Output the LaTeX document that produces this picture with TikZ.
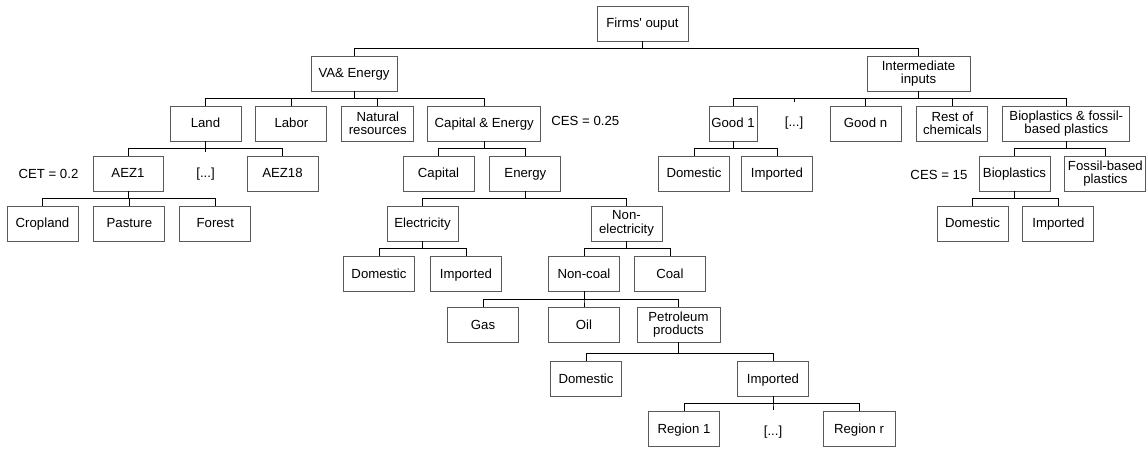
\documentclass[tikz,border=0pt]{standalone}
\usepackage{fontspec}
\setmainfont{Liberation Sans}
\usetikzlibrary{positioning}

\begin{document}
\begin{tikzpicture}[
        x=1pt, y=-1pt,
        nest/.style={rectangle, draw=black!65, line width=0.9pt, minimum width=71pt, minimum height=35pt, inner sep=2pt, align=center, text height=9.6pt, text depth=0.6pt, font=\fontsize{13.2}{13.4}\selectfont},
        twoline/.style={text height=, text depth=},
        gapnode/.style={rectangle, minimum width=30pt, minimum height=35pt, inner sep=0pt, font=\fontsize{13.2}{13.4}\selectfont},
        note/.style={inner sep=0pt, font=\fontsize{13.2}{13.4}\selectfont},
        link/.style={line width=0.75pt},
]
        \useasboundingbox (0,0) rectangle (1146,449);

        \node[nest, minimum width=91pt] (firms) at (642.5,23.5) {Firms\textquotesingle{} ouput};
        \node[nest, minimum width=86pt] (va) at (354,73.5) {VA\& Energy};
        \node[nest, twoline, minimum width=103pt] (inter) at (918.5,73.5) {Intermediate\\inputs};

        \node[nest] (land) at (205.5,123.5) {Land};
        \node[nest] (labor) [right=14pt of land] {Labor};
        \node[nest, twoline, minimum width=72pt] (natres) [right=14pt of labor] {Natural\\resources};
        \node[nest, minimum width=113pt] (capen) [right=13pt of natres] {Capital \& Energy};
        \node[note] (cesone) [right=10pt of capen, yshift=2.5pt] {CES = 0.25};
        \node[nest, minimum width=48pt] (good1) at (733,123.5) {Good 1};
        \node[gapnode] (idots) at (794,123.5) {[...]};
        \node[nest] (goodn) at (865.5,123.5) {Good n};
        \node[nest, twoline] (rest) [right=15pt of goodn] {Rest of\\chemicals};
        \node[nest, twoline, minimum width=127pt] (biofos) [right=14pt of rest] {Bioplastics \& fossil-\\based plastics};

        \node[nest, minimum width=70pt] (aez1) at (128,173.5) {AEZ1};
        \node[gapnode] (ldots) [below=15pt of land] {[...]};
        \node[nest] (aez18) at (282.5,173.5) {AEZ18};
        \node[note] (cet) [left=14pt of aez1] {CET = 0.2};
        \node[nest] (capital) at (438.5,173.5) {Capital};
        \node[nest] (energy) [right=15pt of capital] {Energy};
        \node[nest] (gdom) at (694,173.5) {Domestic};
        \node[nest] (gimp) [right=11pt of gdom] {Imported};
        \node[nest] (bio) at (1014.5,173.5) {Bioplastics};
        \node[nest, twoline, minimum width=81pt] (fossil) [right=14pt of bio] {Fossil-based\\plastics};
        \node[note] (cesfif) [left=11pt of bio, yshift=-1.5pt] {CES = 15};

        \node[nest] (crop) at (42.5,223.5) {Cropland};
        \node[nest] (past) [right=15pt of crop] {Pasture};
        \node[nest] (forest) [right=14pt of past] {Forest};
        \node[nest] (elec) at (422.5,223.5) {Electricity};
        \node[nest, twoline] (nonelec) at (626.5,223.5) {Non-\\electricity};
        \node[nest] (bdom) at (972.5,223.5) {Domestic};
        \node[nest] (bimp) [right=14pt of bdom] {Imported};

        \node[nest] (edom) at (379,273.5) {Domestic};
        \node[nest] (eimp) [right=15pt of edom] {Imported};
        \node[nest] (noncoal) at (584,273.5) {Non-coal};
        \node[nest] (coal) [right=14pt of noncoal] {Coal};

        \node[nest] (gas) at (483,324.5) {Gas};
        \node[nest] (oil) [below=16pt of noncoal] {Oil};
        \node[nest, twoline, minimum width=83pt] (petro) at (678.5,324.5) {Petroleum\\products};

        \node[nest] (pdom) at (586,378.5) {Domestic};
        \node[nest] (pimp) at (773,378.5) {Imported};

        \node[nest] (reg1) at (684,428.5) {Region 1};
        \node[gapnode] (rdots) [below=15pt of pimp, yshift=-3pt] {[...]};
        \node[nest, minimum width=72pt] (regr) at (859,428.5) {Region r};

        % tree links
        \foreach \c in {va,inter} \draw[link] (firms.south) -- ++(0,7) -| (\c.north);
        \foreach \c in {land,labor,natres,capen} \draw[link] (va.south) -- ++(0,7) -| (\c.north);
        \foreach \c in {good1,goodn,rest,biofos} \draw[link] (inter.south) -- ++(0,7) -| (\c.north);
        \draw[link] (inter.south) -- ++(0,7) -| ([yshift=4pt]idots.north);
        \foreach \c in {aez1,aez18} \draw[link] (land.south) -- ++(0,7) -| (\c.north);
        \draw[link] (land.south) -- ++(0,7) -| ([yshift=4pt]ldots.north);
        \foreach \c in {capital,energy} \draw[link] (capen.south) -- ++(0,7) -| (\c.north);
        \foreach \c in {gdom,gimp} \draw[link] (good1.south) -- ++(0,7) -| (\c.north);
        \foreach \c in {bio,fossil} \draw[link] (biofos.south) -- ++(0,7) -| (\c.north);
        \foreach \c in {crop,past,forest} \draw[link] (aez1.south) -- ++(0,7) -| (\c.north);
        \foreach \c in {elec,nonelec} \draw[link] (energy.south) -- ++(0,7) -| (\c.north);
        \foreach \c in {bdom,bimp} \draw[link] (bio.south) -- ++(0,7) -| (\c.north);
        \foreach \c in {edom,eimp} \draw[link] (elec.south) -- ++(0,7) -| (\c.north);
        \foreach \c in {noncoal,coal} \draw[link] (nonelec.south) -- ++(0,7) -| (\c.north);
        \foreach \c in {gas,oil,petro} \draw[link] (noncoal.south) -- ++(0,8) -| (\c.north);
        \foreach \c in {pdom,pimp} \draw[link] (petro.south) -- ++(0,11) -| (\c.north);
        \foreach \c in {reg1,regr} \draw[link] (pimp.south) -- ++(0,7) -| (\c.north);
        \draw[link] (pimp.south) -- ++(0,7) -| ([yshift=4pt]rdots.north);
\end{tikzpicture}
\end{document}
